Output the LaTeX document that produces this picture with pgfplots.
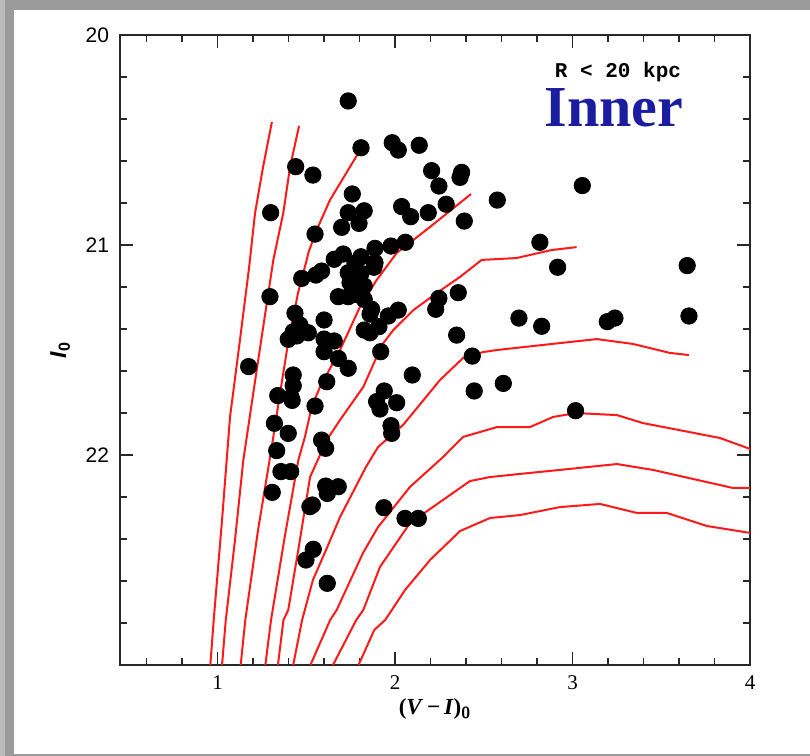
\documentclass[border=0pt]{standalone}
\usepackage{fontspec}
\setmainfont{Liberation Sans}
\newfontfamily\serif{Liberation Serif}
\newfontfamily\mono{Liberation Mono}
\usepackage{pgfplots}
\pgfplotsset{compat=1.18}
\definecolor{innerblue}{RGB}{28,28,160}
\definecolor{framegray}{RGB}{155,155,155}
\definecolor{framelight}{RGB}{188,188,188}
\definecolor{axgray}{RGB}{40,40,40}
\definecolor{isored}{RGB}{255,25,25}

\begin{document}
\begin{tikzpicture}
\useasboundingbox (0pt,0pt) rectangle (405pt,378pt);
\fill[framegray] (0pt,0pt) rectangle (405pt,378pt);
\fill[framelight] (0pt,0pt) rectangle (2.5pt,378pt);
\fill[white] (7pt,1pt) rectangle (405pt,373pt);
\begin{axis}[
  at={(60pt,45.5pt)}, anchor=south west,
  width=315pt, height=315pt, scale only axis,
  xmin=0.45, xmax=4, ymin=20, ymax=23, y dir=reverse,
  xtick={1,2,3,4}, xticklabels={1,2,3,4},
  minor xtick={0.6,0.8,1.2,1.4,1.6,1.8,2.2,2.4,2.6,2.8,3.2,3.4,3.6,3.8},
  ytick={20,21,22,23}, yticklabels={20,21,22,{}},
  minor ytick={20.2,20.4,20.6,20.8,21.2,21.4,21.6,21.8,22.2,22.4,22.6,22.8},
  tick align=inside,
  major tick length=6.5pt, minor tick length=3.5pt,
  axis line style={axgray, line width=1pt},
  tick style={axgray, line width=0.8pt},
  /pgf/number format/assume math mode=true,
  xticklabel style={font=\serif\fontsize{10.5}{12}\selectfont, yshift=-2pt},
  yticklabel style={font=\fontsize{10.5}{12}\selectfont, xshift=-2pt},
  xlabel={\serif\bfseries(\textit{V}\,\textminus\,\textit{I})\textsubscript{\sffamily\bfseries 0}},
  xlabel style={at={(axis description cs:0.5,-0.07)}, anchor=center, font=\fontsize{11.5}{13}\selectfont},
  ylabel={\bfseries\textit{I}\textsubscript{0}},
  ylabel style={at={(axis description cs:-0.095,0.5)}, anchor=center, font=\fontsize{11.5}{13}\selectfont},
]
% isochrones
\addplot[isored, line width=1pt] coordinates {(0.959,23.0) (0.978,22.786) (1.025,22.31) (1.070,21.819) (1.126,21.452) (1.177,21.11) (1.211,20.848) (1.256,20.629) (1.306,20.414)};
\addplot[isored, line width=1pt] coordinates {(1.025,23.0) (1.046,22.786) (1.098,22.405) (1.145,22.024) (1.201,21.705) (1.257,21.39) (1.314,21.071) (1.37,20.848) (1.408,20.629) (1.459,20.433)};
\addplot[isored, line width=1pt] coordinates {(1.130,23.0) (1.156,22.786) (1.228,22.357) (1.305,21.962) (1.352,21.705) (1.397,21.467) (1.453,21.229) (1.502,21.071) (1.511,21.038) (1.558,20.929) (1.633,20.786) (1.793,20.562) (1.808,20.524)};
\addplot[isored, line width=1pt] coordinates {(1.269,23.0) (1.301,22.786) (1.38,22.381) (1.455,22.024) (1.492,21.914) (1.530,21.771) (1.577,21.676) (1.690,21.5) (1.802,21.295) (1.896,21.167) (2.009,21.038) (2.197,20.914) (2.428,20.757)};
\addplot[isored, line width=1pt] coordinates {(1.34,23.0) (1.371,22.786) (1.398,22.738) (1.459,22.429) (1.521,22.105) (1.615,21.929) (1.690,21.833) (1.821,21.676) (1.896,21.533) (1.934,21.467) (1.990,21.405) (2.103,21.31) (2.234,21.229) (2.366,21.152) (2.488,21.071) (2.685,21.062) (2.882,21.024) (3.023,21.01)};
\addplot[isored, line width=1pt] coordinates {(1.426,23.0) (1.476,22.786) (1.537,22.595) (1.611,22.452) (1.690,22.295) (1.836,22.057) (1.904,21.962) (2.045,21.857) (2.253,21.643) (2.383,21.538) (2.495,21.51) (2.574,21.5) (2.929,21.467) (3.137,21.448) (3.34,21.471) (3.549,21.514) (3.656,21.524)};
\addplot[isored, line width=1pt] coordinates {(1.523,23.0) (1.634,22.786) (1.671,22.738) (1.819,22.467) (1.904,22.343) (2.084,22.152) (2.27,22.01) (2.383,21.914) (2.574,21.867) (2.76,21.867) (2.89,21.819) (3.019,21.8) (3.25,21.81) (3.397,21.848) (3.831,21.919) (4.0,21.971)};
\addplot[isored, line width=1pt] coordinates {(1.65,23.0) (1.781,22.786) (1.821,22.738) (1.915,22.533) (2.084,22.324) (2.27,22.214) (2.422,22.124) (2.535,22.105) (2.704,22.09) (2.929,22.071) (3.25,22.043) (3.453,22.071) (3.904,22.157) (4.0,22.157)};
\addplot[isored, line width=1pt] coordinates {(1.794,23.0) (1.883,22.833) (1.944,22.786) (2.056,22.643) (2.197,22.5) (2.366,22.362) (2.535,22.3) (2.704,22.286) (2.929,22.248) (3.155,22.233) (3.363,22.276) (3.532,22.276) (3.757,22.338) (4.0,22.371)};
% clusters
\addplot[only marks, mark=*, mark size=4.1pt, black] coordinates {
(1.736,20.314) (1.808,20.537) (1.984,20.513) (2.018,20.548) (2.136,20.525)
(1.440,20.627) (1.537,20.667) (2.206,20.646) (2.375,20.654) (2.366,20.678)
(2.247,20.719) (1.759,20.757) (1.299,20.846) (1.736,20.846) (1.826,20.837)
(2.037,20.817) (2.088,20.865) (2.187,20.846) (2.288,20.806) (2.390,20.886)
(1.797,20.897) (1.699,20.916) (1.549,20.948) (1.887,21.016) (1.977,21.005)
(2.058,20.987) (1.708,21.043) (1.657,21.068) (1.808,21.056) (1.774,21.087)
(1.887,21.084) (1.881,21.106) (1.736,21.132) (1.808,21.135) (1.586,21.124)
(1.554,21.143) (1.474,21.159) (1.746,21.179) (1.826,21.195) (1.295,21.246)
(1.680,21.246) (1.736,21.246) (1.774,21.235) (1.826,21.259) (2.247,21.254)
(2.229,21.306) (2.356,21.227) (1.868,21.306) (1.859,21.329) (1.962,21.338)
(2.018,21.310) (1.436,21.325) (1.464,21.381) (1.600,21.357) (1.826,21.405)
(1.859,21.418) (1.909,21.389) (1.426,21.413) (1.398,21.449) (1.446,21.433)
(1.511,21.418) (1.600,21.448) (1.657,21.457) (1.600,21.508) (2.347,21.429)
(1.919,21.508) (1.680,21.540) (1.736,21.587) (1.175,21.579) (2.435,21.529)
(2.097,21.619) (1.426,21.619) (1.426,21.670) (1.615,21.651) (2.446,21.695)
(1.339,21.717) (1.414,21.725) (1.420,21.740) (1.939,21.695) (1.896,21.746)
(1.915,21.781) (2.009,21.751) (1.549,21.767) (1.320,21.849) (1.977,21.860)
(1.981,21.897) (1.398,21.897) (1.586,21.929) (1.609,21.968) (1.333,21.979)
(1.357,22.079) (1.412,22.079) (1.308,22.178) (1.609,22.148) (1.618,22.183)
(1.680,22.151) (1.520,22.246) (1.534,22.238) (1.937,22.251) (2.056,22.302)
(2.131,22.302) (1.539,22.449) (1.498,22.500) (1.618,22.611) (3.055,20.717)
(2.576,20.786) (2.816,20.987) (2.916,21.106) (3.646,21.098) (2.698,21.348)
(2.826,21.387) (3.196,21.365) (3.239,21.348) (3.656,21.338) (2.610,21.659)
(3.017,21.789)
};
\node[font=\mono\bfseries\fontsize{10.5}{12}\selectfont] at (axis cs:3.256,20.176) {R < 20 kpc};
\node[font=\serif\bfseries\fontsize{29}{32}\selectfont, text=innerblue] at (axis cs:3.233,20.348) {Inner};
\end{axis}
\end{tikzpicture}
\end{document}
